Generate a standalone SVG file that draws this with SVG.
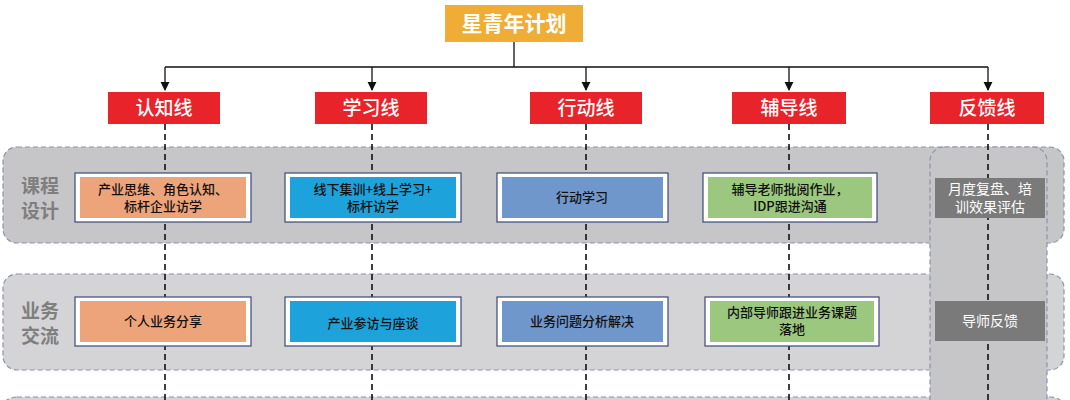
<svg xmlns="http://www.w3.org/2000/svg" width="1070" height="400" viewBox="0 0 1070 400">
<style>
text{font-family:"Noto Sans CJK SC","Liberation Sans",sans-serif;text-anchor:middle}
.band{fill:#c6c6c8;stroke:#8a93a8;stroke-width:1.2;stroke-dasharray:5 3}
.band2{fill:#d4d4d6;stroke:#8a93a8;stroke-width:1.2;stroke-dasharray:5 3}
.red{fill:#e8232a}
.rt{fill:#fff;font-size:19px;font-weight:500}
.out{fill:#fff;stroke:#3a4a7a;stroke-width:1.2}
.bt{fill:#111;font-size:13px;font-weight:500}
.side{fill:#7f7f7f;font-size:19px;font-weight:bold}
.gl{fill:#7a7a7a}
.gt{fill:#fff;font-size:14px}
.dash{stroke:#111;stroke-width:1.6;stroke-dasharray:6 4;fill:none}
.ln{stroke:#111;stroke-width:1.3;fill:none}
</style>
<defs><marker id="ah" viewBox="0 0 10 10" refX="9" refY="5" markerWidth="7" markerHeight="7" orient="auto"><path d="M0,0L10,5L0,10z" fill="#111"/></marker></defs>
<rect class="band" x="3" y="147" width="1061" height="96" rx="14"/>
<rect class="band2" x="3" y="274" width="1061" height="96" rx="14"/>
<rect class="band2" x="3" y="397" width="1061" height="20" rx="14"/>
<rect class="band" x="930" y="147" width="117" height="270" rx="14" fill="#c0c0c2"/>
<g id="connectors">
<path class="ln" d="M514,42V67M165,67H988"/>
<path class="ln" d="M165,67V90" marker-end="url(#ah)"/>
<path class="ln" d="M372,67V90" marker-end="url(#ah)"/>
<path class="ln" d="M586,67V90" marker-end="url(#ah)"/>
<path class="ln" d="M789,67V90" marker-end="url(#ah)"/>
<path class="ln" d="M988,67V90" marker-end="url(#ah)"/>
<path class="dash" d="M165,124V400M372,124V400M586,124V400M789,124V400M988,124V400"/>
</g>
<g id="title"><rect x="445" y="5" width="138" height="37" fill="#f0ad35"/><text x="514" y="31" fill="#fff" font-size="21" font-weight="bold">星青年计划</text></g>
<g id="l1"><rect class="red" x="108" y="92" width="112" height="32"/><text class="rt" x="164" y="115">认知线</text></g>
<g id="l2"><rect class="red" x="315" y="92" width="112" height="32"/><text class="rt" x="371" y="115">学习线</text></g>
<g id="l3"><rect class="red" x="530" y="92" width="112" height="32"/><text class="rt" x="586" y="115">行动线</text></g>
<g id="l4"><rect class="red" x="732" y="92" width="114" height="32"/><text class="rt" x="789" y="115">辅导线</text></g>
<g id="l5"><rect class="red" x="930" y="92" width="114" height="32"/><text class="rt" x="987" y="115">反馈线</text></g>
<g id="s1"><text class="side" x="40" y="193">课程</text><text class="side" x="40" y="218">设计</text></g>
<g id="s2"><text class="side" x="40" y="318">业务</text><text class="side" x="40" y="343">交流</text></g>
<g id="b11"><rect class="out" x="75" y="173" width="176" height="49"/><rect x="80" y="177" width="166" height="41" fill="#eea47b"/><text class="bt" x="163" y="194">产业思维、角色认知、</text><text class="bt" x="163" y="211">标杆企业访学</text></g>
<g id="b12"><rect class="out" x="285" y="173" width="176" height="49"/><rect x="290" y="177" width="166" height="41" fill="#1ea2dc"/><text class="bt" x="373" y="194">线下集训+线上学习+</text><text class="bt" x="373" y="211">标杆访学</text></g>
<g id="b13"><rect class="out" x="497" y="173" width="171" height="49"/><rect x="502" y="177" width="161" height="41" fill="#7097cc"/><text class="bt" x="582" y="202">行动学习</text></g>
<g id="b14"><rect class="out" x="703" y="173" width="174" height="49"/><rect x="708" y="177" width="164" height="41" fill="#9bc87e"/><text class="bt" x="790" y="194">辅导老师批阅作业，</text><text class="bt" x="790" y="211">IDP跟进沟通</text></g>
<g id="b21"><rect class="out" x="75" y="297" width="176" height="49"/><rect x="80" y="301" width="166" height="41" fill="#eea47b"/><text class="bt" x="163" y="326">个人业务分享</text></g>
<g id="b22"><rect class="out" x="285" y="297" width="176" height="49"/><rect x="290" y="301" width="166" height="41" fill="#1ea2dc"/><text class="bt" x="373" y="328">产业参访与座谈</text></g>
<g id="b23"><rect class="out" x="497" y="297" width="171" height="49"/><rect x="502" y="301" width="161" height="41" fill="#7097cc"/><text class="bt" x="582" y="326">业务问题分析解决</text></g>
<g id="b24"><rect class="out" x="705" y="297" width="174" height="49"/><rect x="710" y="301" width="164" height="41" fill="#9bc87e"/><text class="bt" x="792" y="317">内部导师跟进业务课题</text><text class="bt" x="792" y="334">落地</text></g>
<g id="f1"><rect class="gl" x="935" y="178" width="110" height="40"/><text class="gt" x="990" y="194">月度复盘、培</text><text class="gt" x="990" y="212">训效果评估</text></g>
<g id="f2"><rect class="gl" x="935" y="301" width="110" height="40"/><text class="gt" x="990" y="326">导师反馈</text></g>
</svg>
